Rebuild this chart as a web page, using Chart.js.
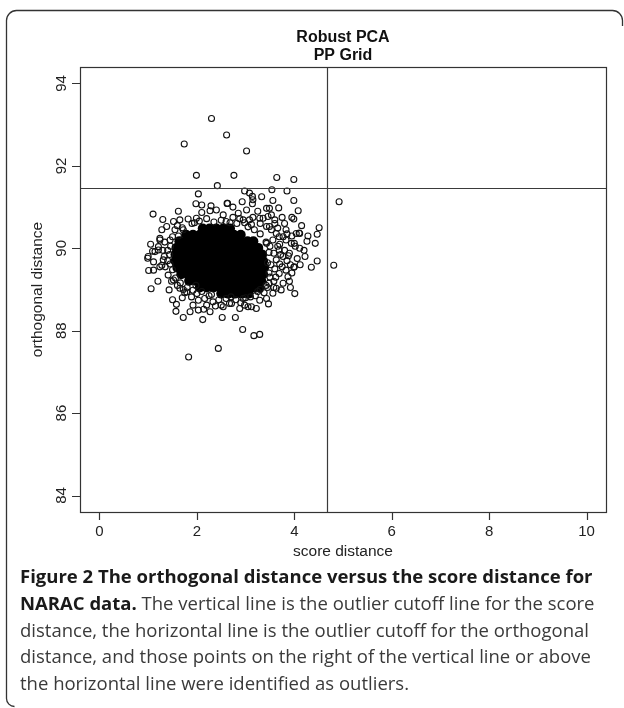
<!DOCTYPE html>
<html><head><meta charset="utf-8">
<script src="https://cdn.jsdelivr.net/npm/chart.js@4/dist/chart.umd.min.js"></script>
<style>
html,body{margin:0;padding:0;background:#fff;}
canvas{display:block;}
</style></head><body>
<canvas id="c" width="624" height="708" style="width:624px;height:708px"></canvas>
<script>
// ---- data ----
const titleLines = ["Robust PCA", "PP Grid"];
const xLabel = "score distance";
const yLabel = "orthogonal distance";
const xTicks = [0, 2, 4, 6, 8, 10];
const yTicks = [84, 86, 88, 90, 92, 94];
const xRange = [-0.4, 10.4];
const yRange = [83.6, 94.4];
const cutoffScore = 4.67;   // vertical cutoff line
const cutoffOrth = 91.47;   // horizontal cutoff line

// scattered individual points (score distance, orthogonal distance)
const outlierScore = [2.30,2.61,1.74,3.02,1.99,2.76,3.64,3.99,2.42,2.03,1.10,0.99,1.01,1.11,1.06,1.43,1.83,2.44,2.94,3.17,3.29,2.52,2.79,2.12,1.72,4.01,4.26,4.92,4.81,3.54,3.85,2.98,3.08,3.14,3.33,3.56,3.99,2.63,2.74,2.93,3.14,3.49,3.68,4.08,3.95,3.99,4.51,4.47,4.10,4.43,4.47,4.35,3.99,3.22,1.09,1.58,1.57,2.27,1.75,1.92,1.98,2.29,2.62,3.15,3.43];
const outlierOrth  = [93.15,92.75,92.53,92.36,91.77,91.77,91.72,91.67,91.52,91.32,90.83,89.76,89.46,89.47,89.02,88.99,87.36,87.57,88.03,87.88,87.91,88.32,88.32,88.27,88.32,88.90,90.17,91.13,89.59,91.42,91.39,91.39,91.34,91.26,91.25,91.16,91.16,91.09,91.00,91.13,91.08,90.97,90.98,90.91,90.75,90.71,90.50,90.34,90.37,90.12,89.69,89.54,89.54,88.54,89.93,88.64,88.47,88.46,88.92,88.62,91.08,91.03,91.09,91.18,90.97];

// points forming the ragged edge around the dense cluster
const haloScore = [1.82,2.10,2.27,2.40,2.54,2.74,2.88,3.08,3.29,3.46,3.60,1.38,1.28,1.24,1.21,1.14,1.00,1.11,1.24,1.52,1.65,1.99,3.02,3.53,3.63,3.43,2.95,3.15,3.36,3.53,3.49,3.66,3.83,4.04,3.77,3.56,3.43,3.94,4.11,3.90,3.69,4.11,4.00,3.83,3.69,3.77,3.63,4.00,3.83,3.69,3.87,3.77,3.63,3.73,3.56,3.43,3.29,3.12,2.98,2.88,2.71,2.54,1.24,1.21,1.31,1.28,1.41,1.52,1.65,1.79,1.89,2.03,2.16,2.33,2.50,2.67,3.05,2.03,2.14,1.86,
 3.50,3.58,3.52,3.60,3.50,3.58,3.45,3.70,3.80,3.85,3.92,3.70,3.95,3.60,3.30,2.60,2.20,1.90,1.70,1.55,1.45,1.40,1.40,1.35,1.48,1.60,1.80,2.00,2.25,2.45,2.60,2.80,3.00,3.20,3.38,3.30,3.48,2.90,2.38,1.70,4.20,4.22,4.15,3.80,2.85,2.10,1.62,1.30,3.25,3.75,4.28,3.95,4.06,3.92,3.47,2.20,1.50,1.20,1.05,
 1.95,2.05,2.35,2.50,2.68,2.82,2.98,3.12,1.60,1.72,1.62,1.50,1.46,1.44,1.45,1.50,1.34,1.30,1.33,1.56,1.66,1.72,1.92,2.10,2.30,1.98,2.70,2.95,3.10,3.25,3.42,3.48,3.45,3.48,3.42,3.30,3.18,3.05,3.62,3.75,3.88,4.02,3.66,3.85,3.58,3.90,4.12,3.72];
const haloOrth = [90.71,90.87,90.91,90.93,90.81,90.75,90.72,90.69,90.73,90.77,90.69,90.53,90.45,90.24,90.04,89.92,89.80,89.67,89.55,90.65,90.69,90.73,90.93,90.45,90.36,90.53,90.69,90.75,90.73,90.81,90.53,90.49,90.45,90.36,90.28,90.20,90.12,90.12,90.00,89.88,89.96,90.36,90.12,90.20,90.28,89.80,89.72,89.55,89.47,89.39,89.31,89.15,89.03,88.99,88.91,88.78,88.74,88.58,88.62,88.54,88.66,88.58,90.20,89.96,89.72,89.59,89.35,89.23,89.03,88.94,88.82,88.74,88.78,88.70,88.62,88.66,88.58,88.50,88.52,88.46,
 90.05,89.88,89.60,89.50,89.30,89.20,89.05,89.62,89.95,89.70,89.60,90.10,90.30,90.60,90.60,90.65,90.72,90.60,90.50,90.45,90.20,89.95,89.70,89.55,89.20,89.10,89.05,88.90,88.85,88.75,88.78,88.75,88.80,88.85,88.92,89.00,89.15,88.68,88.60,88.80,89.95,89.80,90.55,90.60,90.85,91.05,90.90,90.70,90.90,90.75,90.30,89.40,89.75,89.05,88.65,88.62,88.75,89.20,90.10,
 90.62,90.66,90.64,90.68,90.62,90.60,90.62,90.58,90.55,90.45,90.30,90.28,90.05,89.85,89.62,89.48,90.15,89.95,89.80,89.28,89.16,89.00,88.98,88.95,88.88,89.10,88.82,88.78,88.82,88.95,89.10,89.40,89.65,89.90,90.15,90.35,90.45,90.52,89.30,89.55,89.82,90.05,90.05,90.35,89.05,89.20,89.60,89.85];

// dense, fully overlapping core of the cluster (rows of orthogonal distance)
const coreRowOrth = [90.48, 90.33, 90.17, 90.01, 89.85, 89.69, 89.53, 89.37, 89.21, 89.05, 88.90];
const coreRowScores = [
  [2.12,2.26,2.40,2.54,2.68],
  [1.78,1.92,2.06,2.20,2.34,2.48,2.62,2.76,2.90],
  [1.64,1.78,1.92,2.06,2.20,2.34,2.48,2.62,2.76,2.90,3.04,3.16],
  [1.58,1.72,1.86,2.00,2.14,2.28,2.42,2.56,2.70,2.84,2.98,3.12,3.26],
  [1.56,1.70,1.84,1.98,2.12,2.26,2.40,2.54,2.68,2.82,2.96,3.10,3.24,3.34],
  [1.56,1.70,1.84,1.98,2.12,2.26,2.40,2.54,2.68,2.82,2.96,3.10,3.24,3.36],
  [1.60,1.74,1.88,2.02,2.16,2.30,2.44,2.58,2.72,2.86,3.00,3.14,3.28,3.38],
  [1.68,1.82,1.96,2.10,2.24,2.38,2.52,2.66,2.80,2.94,3.08,3.22,3.36],
  [1.84,1.98,2.12,2.26,2.40,2.54,2.68,2.82,2.96,3.10,3.24,3.32],
  [2.06,2.20,2.34,2.48,2.62,2.76,2.90,3.04,3.18,3.28],
  [2.50,2.64,2.78,2.92,3.06]
];

const captionLines = [
  [["Figure 2 The orthogonal distance versus the score distance for", true]],
  [["NARAC data.", true], [" The vertical line is the outlier cutoff line for the score", false]],
  [["distance, the horizontal line is the outlier cutoff for the orthogonal", false]],
  [["distance, and those points on the right of the vertical line or above", false]],
  [["the horizontal line were identified as outliers.", false]]
];

// ---- build datasets ----
const zip = (xs, ys) => xs.map((x, i) => ({x: x, y: ys[i]}));
const ringData = zip(outlierScore, outlierOrth).concat(zip(haloScore, haloOrth));
const coreData = [];
coreRowOrth.forEach((o, r) => coreRowScores[r].forEach(s => coreData.push({x: s, y: o})));

const AX = '"Liberation Sans", Arial, sans-serif';
const CAP = '"Open Sans", "Noto Sans", sans-serif';

const decor = {
  id: 'decor',
  afterDraw(chart) {
    const ctx = chart.ctx, a = chart.chartArea;
    const xs = chart.scales.x, ys = chart.scales.y;
    ctx.save();
    // cutoff lines
    ctx.strokeStyle = '#3a3a3a'; ctx.lineWidth = 1.2;
    const vx = Math.round(xs.getPixelForValue(cutoffScore)) + 0.5;
    const hy = Math.round(ys.getPixelForValue(cutoffOrth)) + 0.5;
    ctx.beginPath();
    ctx.moveTo(vx, a.top); ctx.lineTo(vx, a.bottom);
    ctx.moveTo(a.left, hy); ctx.lineTo(a.right, hy);
    ctx.stroke();
    // plot box
    ctx.strokeStyle = '#333'; ctx.lineWidth = 1.2;
    ctx.strokeRect(Math.round(a.left) + 0.5, Math.round(a.top) + 0.5, Math.round(a.right - a.left), Math.round(a.bottom - a.top));
    // ticks
    ctx.fillStyle = '#222';
    ctx.font = '15px ' + AX;
    ctx.textAlign = 'center'; ctx.textBaseline = 'middle';
    ctx.beginPath();
    xTicks.forEach(v => {
      const px = Math.round(xs.getPixelForValue(v)) + 0.5;
      ctx.moveTo(px, a.bottom); ctx.lineTo(px, a.bottom + 8);
    });
    yTicks.forEach(v => {
      const py = Math.round(ys.getPixelForValue(v)) + 0.5;
      ctx.moveTo(a.left - 8, py); ctx.lineTo(a.left, py);
    });
    ctx.stroke();
    xTicks.forEach(v => ctx.fillText(String(v), xs.getPixelForValue(v), a.bottom + 20));
    yTicks.forEach(v => {
      ctx.save();
      ctx.translate(a.left - 18, ys.getPixelForValue(v));
      ctx.rotate(-Math.PI / 2);
      ctx.fillText(String(v), 0, 0);
      ctx.restore();
    });
    // axis titles
    ctx.font = '15.5px ' + AX;
    ctx.fillText(xLabel, (a.left + a.right) / 2, a.bottom + 40);
    ctx.save();
    ctx.translate(38, (a.top + a.bottom) / 2);
    ctx.rotate(-Math.PI / 2);
    ctx.fillText(yLabel, 0, 0);
    ctx.restore();
    // title
    ctx.fillStyle = '#111';
    ctx.font = 'bold 16px ' + AX;
    const cx = (a.left + a.right) / 2;
    ctx.fillText(titleLines[0], cx, 38);
    ctx.fillText(titleLines[1], cx, 56);
    // outer frame
    ctx.strokeStyle = '#333'; ctx.lineWidth = 1.3;
    ctx.beginPath();
    ctx.moveTo(14, 706.5);
    ctx.arcTo(6.5, 706.5, 6.5, 698, 8);
    ctx.lineTo(6.5, 20);
    ctx.arcTo(6.5, 10.5, 16, 10.5, 10);
    ctx.lineTo(612, 10.5);
    ctx.arcTo(622.5, 10.5, 622.5, 20, 10);
    ctx.lineTo(622.5, 26);
    ctx.stroke();
    // caption
    ctx.textAlign = 'left'; ctx.textBaseline = 'middle';
    ctx.font = '400 100px ' + CAP;
    const fs = 100 * 569 / ctx.measureText(captionLines[2][0][0]).width;
    const ys0 = [578, 605, 631.5, 658, 684.5];
    captionLines.forEach((parts, i) => {
      let x = 20;
      parts.forEach(([t, bold]) => {
        ctx.font = (bold ? '700 ' : '400 ') + fs.toFixed(2) + 'px ' + CAP;
        ctx.fillStyle = bold ? '#1a1a1a' : '#3a3a3a';
        ctx.fillText(t, x, ys0[i]);
        x += ctx.measureText(t).width;
      });
    });
    ctx.restore();
  }
};

new Chart(document.getElementById('c'), {
  type: 'scatter',
  data: {
    datasets: [
      {label: 'points', data: ringData, order: 1, pointRadius: 3, pointBorderWidth: 1.1,
       pointBorderColor: '#111', pointBackgroundColor: 'rgba(0,0,0,0)', pointHoverRadius: 3},
      {label: 'dense core', data: coreData, order: 2, pointRadius: 5, pointBorderWidth: 0,
       pointBorderColor: '#000', pointBackgroundColor: '#000', pointHoverRadius: 5}
    ]
  },
  options: {
    responsive: false, animation: false, events: [],
    layout: {padding: {left: 80, top: 67, right: 18, bottom: 196}},
    plugins: {legend: {display: false}, tooltip: {enabled: false}, title: {display: false}},
    scales: {
      x: {type: 'linear', min: xRange[0], max: xRange[1], display: false},
      y: {type: 'linear', min: yRange[0], max: yRange[1], display: false}
    }
  },
  plugins: [decor]
});
</script>
</body></html>
